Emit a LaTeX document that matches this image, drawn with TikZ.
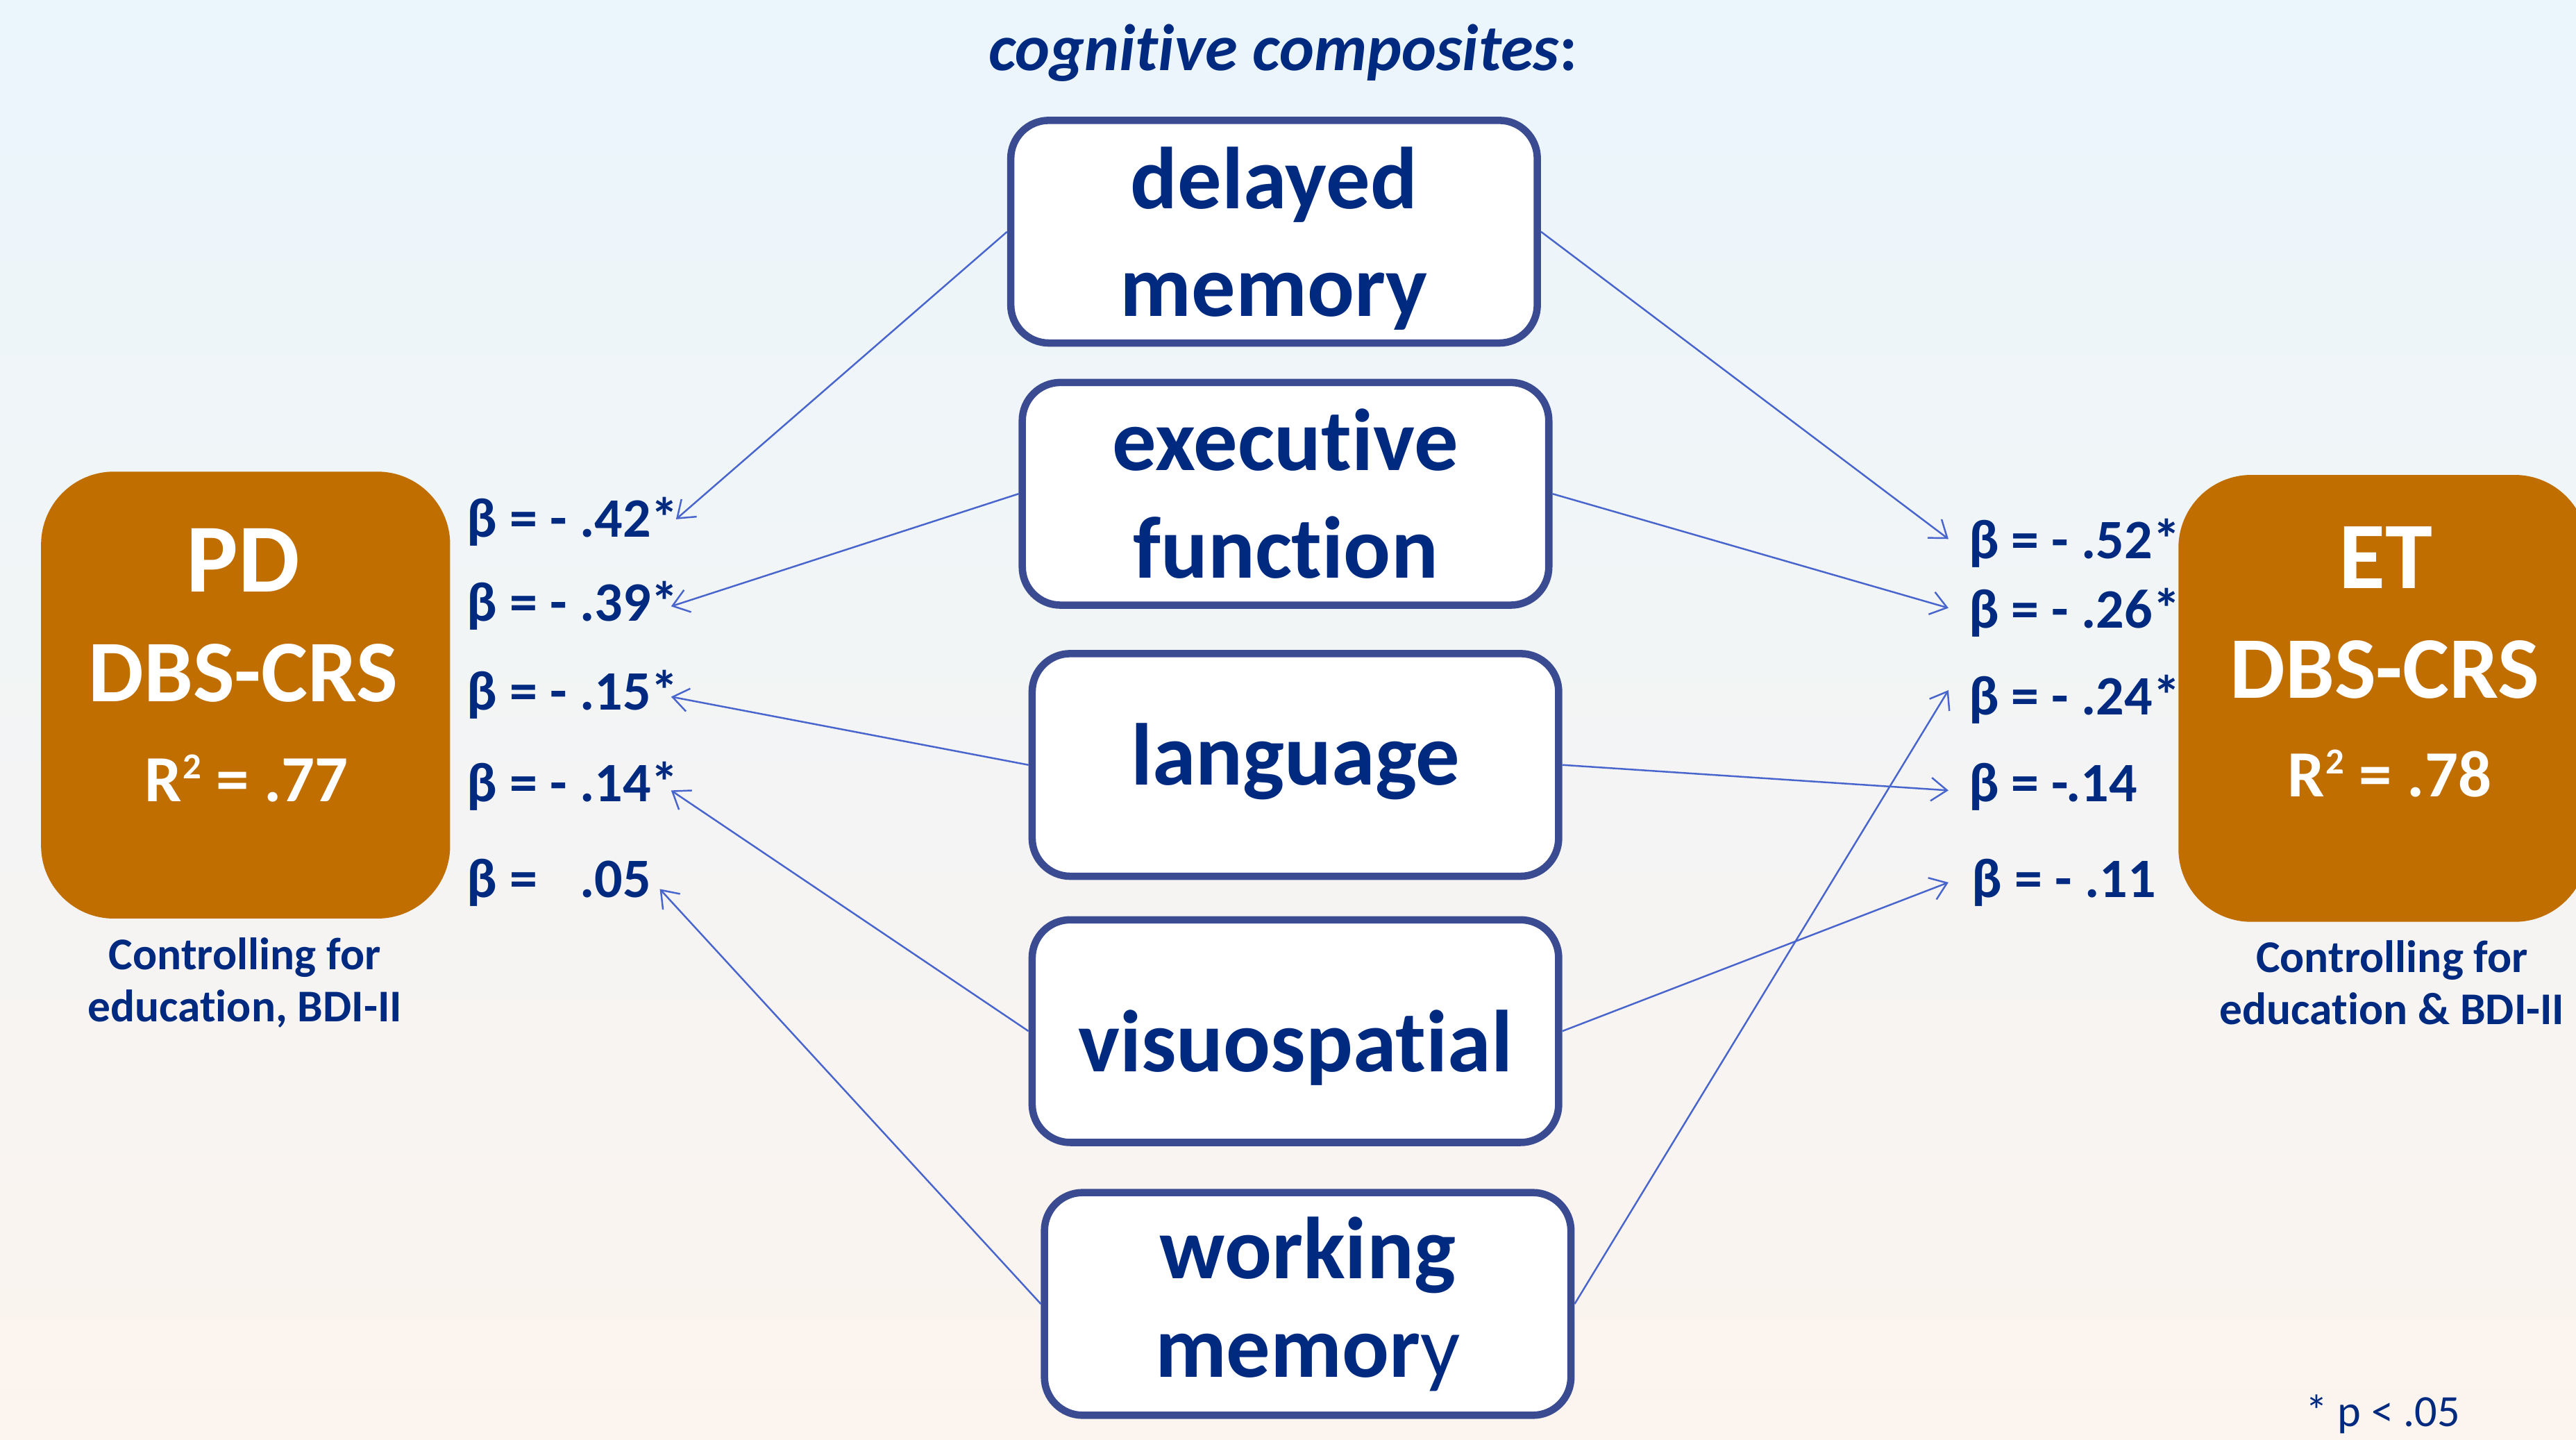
\documentclass[tikz,border=0pt]{standalone}
\usepackage{fontspec}
\setmainfont{Carlito}[Ligatures=NoCommon]
\usetikzlibrary{arrows.meta,calc}

\definecolor{navy}{RGB}{0,42,127}
\definecolor{frame}{RGB}{58,75,145}
\definecolor{link}{RGB}{72,100,205}
\definecolor{ochre}{RGB}{192,110,0}
\definecolor{skytop}{RGB}{234,245,252}
\definecolor{skymid}{RGB}{242,243,246}
\definecolor{skybot}{RGB}{252,244,238}

% R squared with a large raised 2
\newcommand{\rsq}{R\kern0.5pt\raisebox{9.4pt}{\fontsize{15}{15}\selectfont 2}}

\begin{document}
\begin{tikzpicture}[
  x=0.023667cm, y=-0.023667cm,
  comp/.style={draw=frame, line width=3pt, fill=white, rounded corners=0.55cm,
    minimum width=7.585cm, minimum height=3.207cm, inner sep=0pt,
    align=center, text=navy, font=\bfseries\fontsize{36}{44}\selectfont},
  outcome/.style={fill=ochre, draw=none, rounded corners=1.05cm,
    minimum width=5.893cm, minimum height=6.437cm},
  bigw/.style={text=white, inner sep=0pt, anchor=base, font=\bfseries\fontsize{#1}{#1}\selectfont},
  beta/.style={text=navy, inner sep=0pt, anchor=base west, font=\bfseries\fontsize{22.8}{26}\selectfont},
  caption/.style={text=navy, inner sep=0pt, align=center, font=\bfseries\fontsize{18.6}{21.5}\selectfont},
  path/.style={draw=link, line width=0.7pt, -{Straight Barb[length=6.5pt,width=9.5pt]}}
]
% page and background
\useasboundingbox (0,0) rectangle (1568,876);
\clip (0,0) rectangle (1568,876);
\shade[top color=skytop, middle color=skymid, bottom color=skybot] (0,0) rectangle (1568,876);

% heading
\node[text=navy, inner sep=0pt, anchor=base, font=\bfseries\fontsize{27}{30}\selectfont]
  (head) at (781,43) {\textit{cognitive composites}:};

% cognitive composite boxes
\node[comp] (dm)   at (775.5,141)  {\raisebox{-0.1cm}[\height][\depth]{delayed}\\\raisebox{-0.1cm}[\height][\depth]{memory}};
\node[comp] (ef)   at (782.5,300.5){executive\\function};
\node[comp] (lang) at (788.5,465.5){\raisebox{0.05cm}[\height][\depth]{language}};
\node[comp] (vis)  at (788.5,627.5){\raisebox{-0.24cm}[\height][\depth]{visuospatial}};
\node[comp, font=\bfseries\fontsize{36}{40.5}\selectfont] (wm) at (796,793.5){working\\memor{\mdseries y}};

% outcome boxes
\node[outcome] (pd) at (149.5,423) {};
\node[outcome] (et) at (1450.5,425) {};

\node[bigw=40] (pdname) at (148,360) {PD};
\node[bigw=36] (pdscale) at (148,427) {DBS-CRS};
\node[bigw=27] (pdr) at (150,488) {\rsq{} = .77};

\node[bigw=39] (etname) at (1452,358) {ET};
\node[bigw=36] (etscale) at (1451.5,425) {DBS-CRS};
\node[bigw=27] (etr) at (1454.5,485) {\rsq{} = .78};

\node[caption] (pdcov) at (149,598) {Controlling for\\education, BDI-II};
\node[caption] (etcov) at (1456,598) {Controlling for\\education \& BDI-II};

% coefficients for PD
\node[beta] (bL1) at (284,327) {β = - .42*};
\node[beta] (bL2) at (284,378) {β = - .39*};
\node[beta] (bL3) at (284,432) {β = - .15*};
\node[beta] (bL4) at (284,488) {β = - .14*};
\node[beta] (bL5) at (284,546) {β = \phantom{-} .05};

% coefficients for ET
\node[beta] (bR1) at (1198,340) {β = - .52*};
\node[beta] (bR2) at (1198,382) {β = - .26*};
\node[beta] (bR3) at (1198,435) {β = - .24*};
\node[beta] (bR4) at (1198,488) {β = -.14};
\node[beta] (bR5) at (1200,546) {β = - .11};

% paths to PD
\draw[path] (dm.west)   -- ([shift={(-2,-11)}]bL1.base east);
\draw[path] (ef.west)   -- ([shift={(-5,-9)}]bL2.base east);
\draw[path] (lang.west) -- ([shift={(-5,-8)}]bL3.base east);
\draw[path] (vis.west)  -- ([shift={(-5,-7)}]bL4.base east);
\draw[path] (wm.west)   -- ([shift={(5,-5)}]bL5.base east);

% paths to ET
\draw[path] (dm.east)   -- ([shift={(-12,-12)}]bR1.base west);
\draw[path] (ef.east)   -- ([shift={(-12,-12)}]bR2.base west);
\draw[path] (wm.east)   -- ([shift={(-12,-15)}]bR3.base west);
\draw[path] (lang.east) -- ([shift={(-12,-7)}]bR4.base west);
\draw[path] (vis.east)  -- ([shift={(-14,-9)}]bR5.base west);

% significance note
\node[text=navy, inner sep=0pt, anchor=base west, font=\fontsize{18.3}{22}\selectfont]
  (note) at (1403,868) {* p < .05};
\end{tikzpicture}
\end{document}
